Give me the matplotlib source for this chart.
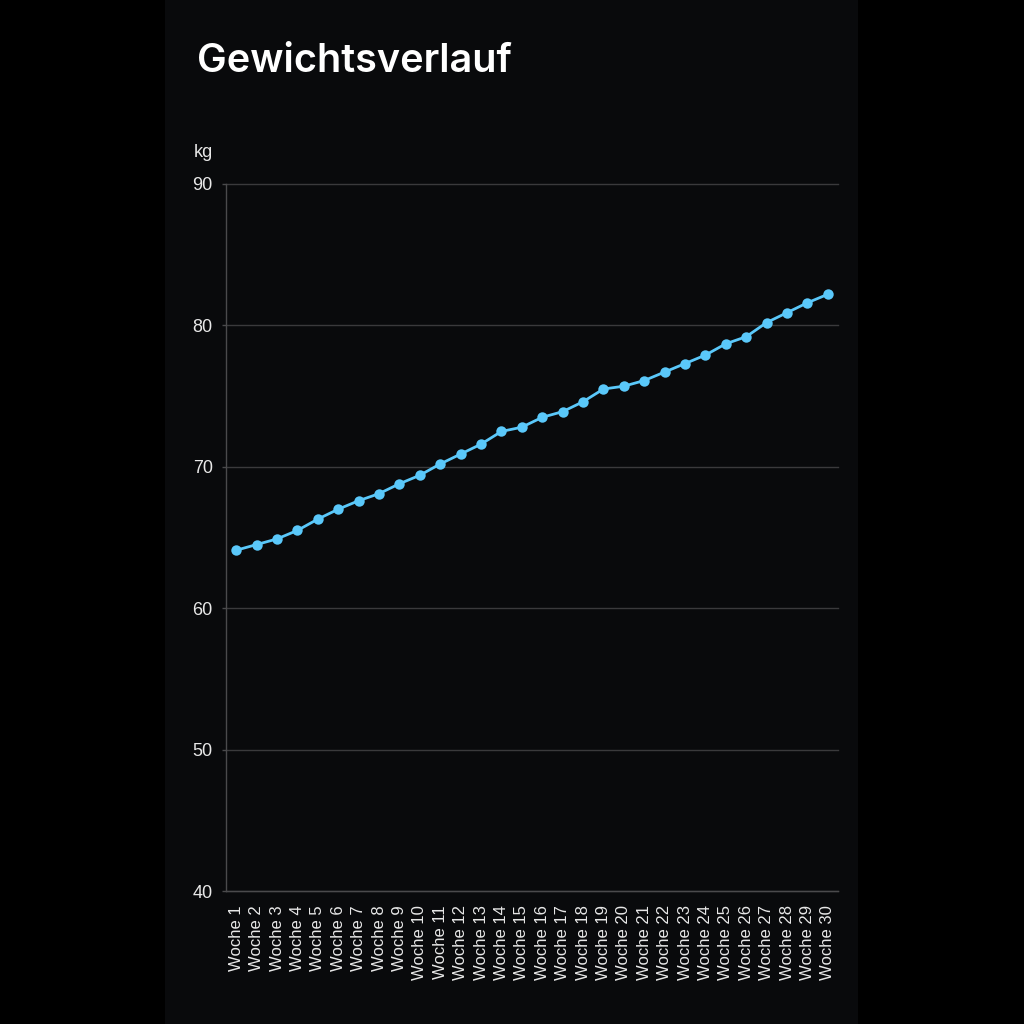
import matplotlib
matplotlib.use("Agg")
import matplotlib.pyplot as plt
from matplotlib.patches import Rectangle

weeks = [f"Woche {i}" for i in range(1, 31)]
weights = [64.1, 64.5, 64.9, 65.5, 66.3, 67.0, 67.6, 68.1, 68.8, 69.4,
           70.2, 70.9, 71.6, 72.5, 72.8, 73.5, 73.9, 74.6, 75.5, 75.7,
           76.1, 76.7, 77.3, 77.9, 78.7, 79.2, 80.2, 80.9, 81.6, 82.2]
y_ticks = [40, 50, 60, 70, 80, 90]

plt.rcParams['font.family'] = ['Liberation Sans', 'DejaVu Sans']

fig = plt.figure(figsize=(10.24, 10.24), dpi=100)
fig.patch.set_facecolor('black')
fig.patches.append(Rectangle((165/1024, 0), (858-165)/1024, 1, transform=fig.transFigure,
                             facecolor='#090a0c', edgecolor='none', zorder=-10))

ax = fig.add_axes([226/1024, 1-891/1024, (838-226)/1024, (891-184)/1024])
ax.set_zorder(5)
ax.set_facecolor('none')
x = list(range(len(weeks)))
ax.plot(x, weights, color='#5ac8fa', linewidth=2.0, marker='o', markersize=7.5,
        markeredgewidth=0, zorder=3)
ax.set_xlim(-0.5, len(weeks) - 0.5)
ax.set_ylim(40, 90)
ax.set_yticks(y_ticks)
ax.set_xticks(x)
ax.set_xticklabels(weeks, rotation=90)
ax.tick_params(axis='x', length=0, pad=10, labelsize=12, colors='#e8e8e8')
ax.tick_params(axis='y', length=3, width=1, color='#4a4a4c', pad=6.5, labelsize=13, labelcolor='#e8e8e8')
for s in ['top', 'right']:
    ax.spines[s].set_visible(False)
ax.spines['bottom'].set_color('#4a4a4c')
ax.spines['bottom'].set_linewidth(1)
ax.spines['left'].set_color('#4a4a4c')
ax.spines['left'].set_linewidth(1)
ax.grid(axis='y', color='#3a3a3c', linewidth=1)
for gl in ax.get_ygridlines():
    gl.set_clip_on(False)
ax.set_axisbelow(True)

fig.text(197/1024, 1-72/1024, 'Gewichtsverlauf', fontsize=28.5, fontweight='semibold',
         family=['Inter', 'DejaVu Sans'], color='white', ha='left', va='baseline', zorder=6)
fig.text(194/1024, 1-157/1024, 'kg', fontsize=13, color='#e8e8e8', ha='left', va='baseline', zorder=6)

fig.savefig('out.png', dpi=100, facecolor=fig.get_facecolor())
